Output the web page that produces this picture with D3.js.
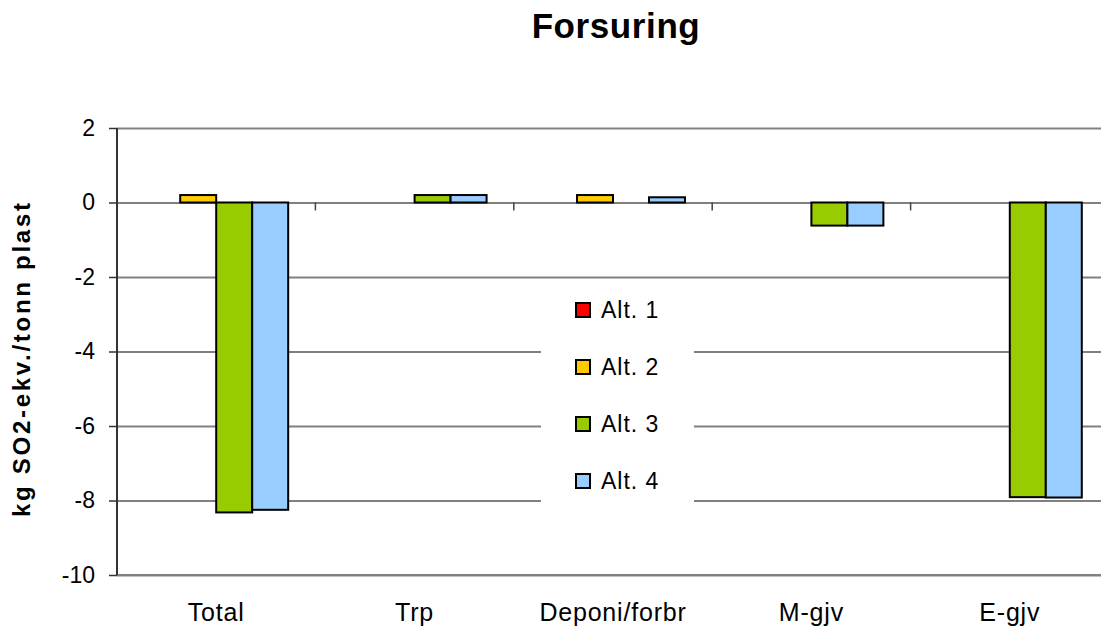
<!DOCTYPE html>
<html>
<head>
<meta charset="utf-8">
<script src="https://cdn.jsdelivr.net/npm/d3@7"></script>
<style>
  html, body { margin: 0; padding: 0; background: #fff; }
  svg { display: block; font-family: Arial, "Liberation Sans", sans-serif; }
</style>
</head>
<body>
<svg id="chart" width="1101" height="626"></svg>
<script>
// Forsuring per livsløpsfase, kg SO2-ekv. per tonn plast
const categories = ["Total", "Trp", "Deponi/forbr", "M-gjv", "E-gjv"];
const seriesNames = ["Alt. 1", "Alt. 2", "Alt. 3", "Alt. 4"];
const alt1 = [null, null, null, null, null];
const alt2 = [0.2, null, 0.2, null, null];
const alt3 = [-8.32, 0.2, null, -0.62, -7.91];
const alt4 = [-8.25, 0.2, 0.14, -0.62, -7.92];
const seriesColors = ["#FF0000", "#FFCC00", "#99CC00", "#99CCFF"];
const yTicks = [2, 0, -2, -4, -6, -8, -10];

const seriesValues = [alt1, alt2, alt3, alt4];

const svg = d3.select("#chart");
const plotLeft = 117, plotTop = 128, plotBottom = 575, plotW = 992;

const x = d3.scaleBand().domain(categories).range([plotLeft, plotLeft + plotW]).padding(0);
const xs = d3.scaleBand().domain(seriesNames).range([0, x.bandwidth()]).paddingInner(0).paddingOuter(0.756);
const y = d3.scaleLinear().domain([-10, 2]).range([plotBottom, plotTop]);

// horizontal gridlines
svg.append("g")
  .attr("transform", `translate(${plotLeft},0)`)
  .call(d3.axisLeft(y).tickValues(yTicks).tickSize(-plotW).tickFormat(""))
  .call(g => g.select(".domain").remove())
  .call(g => g.selectAll(".tick line").attr("stroke", "#808080").attr("stroke-width", 2));

// bottom frame line
svg.append("line")
  .attr("x1", plotLeft).attr("x2", plotLeft + plotW)
  .attr("y1", y(-10)).attr("y2", y(-10))
  .attr("stroke", "#808080").attr("stroke-width", 2);

// legend background (drawn over the gridlines)
const legend = svg.append("g");
legend.append("rect")
  .attr("x", 541).attr("y", 286).attr("width", 153).attr("height", 222)
  .attr("fill", "#fff");

// bars
const groups = svg.append("g").selectAll("g")
  .data(seriesNames.map((name, i) => ({ name, color: seriesColors[i], values: seriesValues[i] })))
  .join("g");

groups.selectAll("rect")
  .data(s => s.values.map((v, j) => ({ v, cat: categories[j], name: s.name, color: s.color }))
    .filter(d => d.v !== null))
  .join("rect")
  .attr("x", d => x(d.cat) + xs(d.name))
  .attr("width", xs.bandwidth())
  .attr("y", d => y(Math.max(0, d.v)))
  .attr("height", d => Math.abs(y(d.v) - y(0)))
  .attr("fill", d => d.color)
  .attr("stroke", "#000")
  .attr("stroke-width", 2);

// category axis along zero line, ticks between categories
const catAxis = svg.append("g").attr("transform", `translate(0,${y(0)})`);
catAxis.selectAll("line")
  .data(categories.map(c => x(c)).concat([plotLeft + plotW]))
  .join("line")
  .attr("x1", d => d).attr("x2", d => d)
  .attr("y1", 0).attr("y2", 8)
  .attr("stroke", "#444").attr("stroke-width", 1.5);

// category labels
svg.append("g").selectAll("text")
  .data(categories)
  .join("text")
  .attr("x", d => x(d) + x.bandwidth() / 2)
  .attr("y", 621)
  .attr("text-anchor", "middle")
  .attr("font-size", 25)
  .attr("letter-spacing", 0.8)
  .attr("fill", "#000")
  .text(d => d);

// value axis
svg.append("g")
  .attr("transform", `translate(${plotLeft},0)`)
  .call(d3.axisLeft(y).tickValues(yTicks).tickSize(8).tickPadding(14).tickFormat(d3.format("d")))
  .call(g => g.select(".domain").attr("stroke", "#333").attr("stroke-width", 2)
    .attr("d", `M0,${plotTop}V${plotBottom}`))
  .call(g => g.selectAll(".tick line").attr("stroke", "#333").attr("stroke-width", 1.5))
  .call(g => g.selectAll(".tick text")
    .attr("font-size", 23).attr("fill", "#000")
    .attr("font-family", "Arial, 'Liberation Sans', sans-serif")
    .text(d => d < 0 ? "-" + Math.abs(d) : d));

// legend entries
const entries = legend.selectAll("g.entry")
  .data(seriesNames)
  .join("g")
  .attr("class", "entry")
  .attr("transform", (d, i) => `translate(576,${310 + i * 57})`);
entries.append("rect")
  .attr("x", 0).attr("y", -7).attr("width", 14).attr("height", 14)
  .attr("fill", (d, i) => seriesColors[i])
  .attr("stroke", "#000").attr("stroke-width", 2);
entries.append("text")
  .attr("x", 25).attr("y", 8)
  .attr("font-size", 23)
  .attr("letter-spacing", 1)
  .attr("fill", "#000")
  .text(d => d);

// title
svg.append("text")
  .attr("x", 616).attr("y", 38)
  .attr("text-anchor", "middle")
  .attr("font-size", 35).attr("font-weight", "bold")
  .attr("letter-spacing", 0.6)
  .text("Forsuring");

// value axis title
svg.append("text")
  .attr("transform", `translate(30,360) rotate(-90)`)
  .attr("text-anchor", "middle")
  .attr("font-size", 24).attr("font-weight", "bold")
  .attr("textLength", 314).attr("lengthAdjust", "spacing")
  .text("kg SO2-ekv./tonn plast");
</script>
</body>
</html>
